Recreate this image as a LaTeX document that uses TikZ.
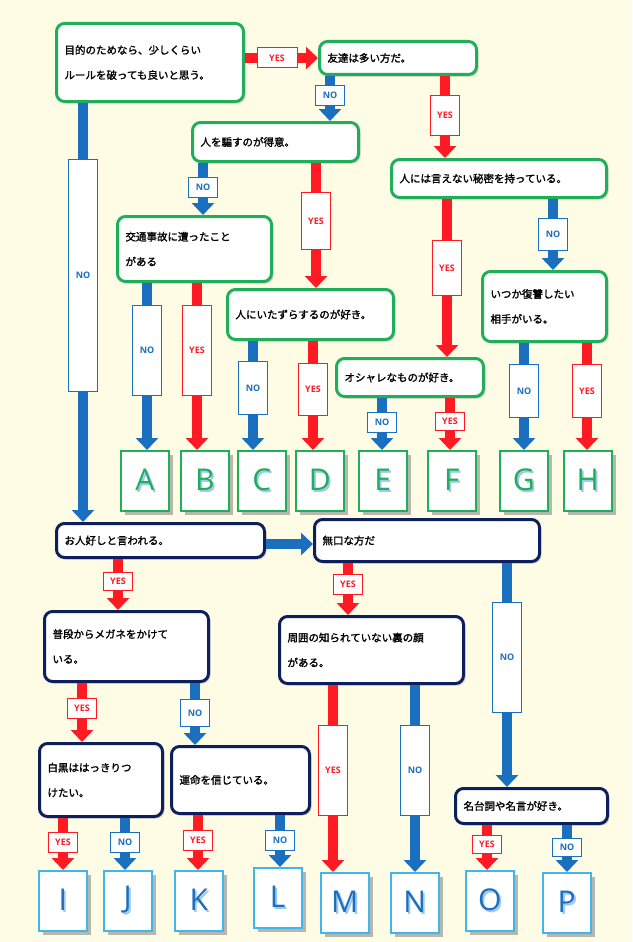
\documentclass[tikz,border=0pt]{standalone}
\usepackage{fontspec}
\newfontfamily\jp{Noto Sans CJK JP}[AutoFakeBold=1.6]
\newfontfamily\lat{Open Sans}[BoldFont={Open Sans Bold}]
\usetikzlibrary{arrows.meta,shadows}
\definecolor{bg}{HTML}{FEFCE4}
\definecolor{qg}{HTML}{1FAF5A}
\definecolor{nv}{HTML}{0D1F5C}
\definecolor{ry}{HTML}{FF1A24}
\definecolor{bn}{HTML}{1A6FBF}
\definecolor{lb}{HTML}{3FB6EE}
\definecolor{sh}{HTML}{9EC8F0}
\tikzset{x=1pt,y=-1pt,
 box/.style={line width=3pt,rounded corners=8pt,fill=white,anchor=north west,align=left,
   font=\jp\bfseries\fontsize{10.5}{25}\selectfont,inner sep=8pt,
   drop shadow={opacity=0.3,shadow xshift=2pt,shadow yshift=-2pt}},
 q/.style={box,draw=qg},
 n/.style={box,draw=nv},
 res/.style={fill=white,line width=1.5pt,minimum width=48pt,minimum height=60pt,anchor=north west,inner sep=0pt,
   font=\lat\fontsize{30}{30}\selectfont,drop shadow={opacity=0.55,shadow xshift=4pt,shadow yshift=-4pt,fill=gray}},
 rg/.style={res,draw=qg},
 rb/.style={res,draw=lb},
 yes/.style={draw=ry,line width=10pt,-{Triangle[width=22pt,length=12pt]}},
 no/.style={draw=bn,line width=10pt,-{Triangle[width=22pt,length=12pt]}},
 lab/.style={fill=white,line width=1pt,minimum width=29pt,minimum height=20pt,inner sep=1pt,font=\lat\bfseries\fontsize{9}{9}\selectfont},
 labyes/.style={lab,draw=ry,text=ry},
 labno/.style={lab,draw=bn,text=bn},
}
\newcommand\ltr[2]{\rlap{\textcolor{sh}{\hspace{1.8pt}\raisebox{-1.8pt}{#2}}}\textcolor{#1}{#2}}
% \arr{style}{from}{to}{x}{labelname}{label y}{label h}
\newcommand\arr[7]{\draw[#1] (#2.south -| #4,0) -- (#3.north -| #4,0);
 \node[lab#1,minimum height=#7pt] (#5) at (#4,#6) {\MakeUppercase{#1}};}
\begin{document}
\begin{tikzpicture}
\useasboundingbox[fill=bg] (0,0) rectangle (632,942);
% green questions
\node[q,minimum width=187pt,minimum height=78pt,text width=171pt] (q1) at (55,22) {目的のためなら、少しくらい\\ルールを破っても良いと思う。\\[-6pt]};
\node[q,minimum width=157pt,minimum height=33pt,text width=141pt] (q2) at (318,40) {友達は多い方だ。};
\node[q,minimum width=166pt,minimum height=39pt,text width=150pt] (q3) at (191,121) {人を騙すのが得意。};
\node[q,minimum width=215pt,minimum height=38pt,text width=199pt] (q4) at (390,158) {人には言えない秘密を持っている。};
\node[q,minimum width=154pt,minimum height=65pt,text width=138pt] (q5) at (116,215) {交通事故に遭ったこと\\がある};
\node[q,minimum width=166pt,minimum height=50pt,text width=150pt] (q6) at (226,288) {人にいたずらするのが好き。};
\node[q,minimum width=124pt,minimum height=70pt,text width=108pt] (q7) at (481,270) {いつか復讐したい\\相手がいる。};
\node[q,minimum width=147pt,minimum height=38pt,text width=131pt] (q8) at (335,357) {オシャレなものが好き。};
% green results
\node[rg] (A) at (120,450) {\ltr{qg}{A}};
\node[rg] (B) at (180,450) {\ltr{qg}{B}};
\node[rg] (C) at (237,450) {\ltr{qg}{C}};
\node[rg] (D) at (295,450) {\ltr{qg}{D}};
\node[rg] (E) at (358,450) {\ltr{qg}{E}};
\node[rg] (F) at (427,450) {\ltr{qg}{F}};
\node[rg] (G) at (499,450) {\ltr{qg}{G}};
\node[rg] (H) at (563,450) {\ltr{qg}{H}};
% navy questions
\node[n,minimum width=208pt,minimum height=34pt,text width=192pt] (r1) at (55,522) {お人好しと言われる。};
\node[n,minimum width=225pt,minimum height=42pt,text width=209pt] (r2) at (313,518) {無口な方だ\\[-6pt]};
\node[n,minimum width=164pt,minimum height=70pt,text width=148pt] (r3) at (43,610) {普段からメガネをかけて\\いる。};
\node[n,minimum width=184pt,minimum height=67pt,text width=168pt] (r4) at (278,615) {周囲の知られていない裏の顔\\がある。};
\node[n,minimum width=123pt,minimum height=73pt,text width=107pt] (r5) at (38,742) {白黒ははっきりつ\\けたい。};
\node[n,minimum width=138pt,minimum height=67pt,text width=122pt] (r6) at (170,745) {運命を信じている。\\[18pt]};
\node[n,minimum width=152pt,minimum height=35pt,text width=136pt] (r7) at (454,787) {名台詞や名言が好き。};
% blue results
\node[rb] (I) at (38,870) {\ltr{bn}{I}};
\node[rb] (J) at (103,870) {\ltr{bn}{J}};
\node[rb] (K) at (174,870) {\ltr{bn}{K}};
\node[rb] (L) at (253,867) {\ltr{bn}{L}};
\node[rb] (M) at (320,872) {\ltr{bn}{M}};
\node[rb] (N) at (390,872) {\ltr{bn}{N}};
\node[rb] (O) at (465,870) {\ltr{bn}{O}};
\node[rb] (P) at (542,872) {\ltr{bn}{P}};
% connectors
\draw[yes] (q1.east |- 0,58) -- (q2.west |- 0,58);
\node[labyes,minimum width=40pt] (l1) at (277,58) {YES};
\arr{no}{q2}{q3}{330}{l2}{95}{20}
\arr{yes}{q2}{q4}{445}{l3}{115}{40}
\arr{no}{q1}{r1}{83}{l4}{275}{232}
\arr{no}{q3}{q5}{203}{l5}{187}{20}
\arr{yes}{q3}{q6}{316}{l6}{221}{57}
\arr{yes}{q4}{q8}{447}{l7}{268}{55}
\arr{no}{q4}{q7}{553}{l8}{234}{32}
\arr{no}{q5}{A}{147}{l9}{350}{90}
\arr{yes}{q5}{B}{197}{l10}{350}{90}
\arr{no}{q6}{C}{253}{l11}{388}{53}
\arr{yes}{q6}{D}{313}{l12}{389}{52}
\arr{no}{q8}{E}{382}{l13}{422}{20}
\arr{yes}{q8}{F}{450}{l14}{421}{18}
\arr{no}{q7}{G}{524}{l15}{391}{53}
\arr{yes}{q7}{H}{587}{l16}{391}{53}
\draw[no] (r1.east |- 0,544) -- (r2.west |- 0,544);
\arr{yes}{r1}{r3}{118}{l17}{581}{18}
\arr{yes}{r2}{r4}{348}{l18}{584}{20}
\arr{no}{r2}{r7}{507}{l19}{657}{110}
\arr{yes}{r3}{r5}{82}{l20}{708}{20}
\arr{no}{r3}{r6}{195}{l21}{713}{27}
\arr{yes}{r4}{M}{333}{l22}{770}{90}
\arr{no}{r4}{N}{415}{l23}{770}{90}
\arr{yes}{r5}{I}{63}{l24}{842}{20}
\arr{no}{r5}{J}{125}{l25}{842}{20}
\arr{yes}{r6}{K}{198}{l26}{840}{20}
\arr{no}{r6}{L}{280}{l27}{840}{20}
\arr{yes}{r7}{O}{487}{l28}{844}{18}
\arr{no}{r7}{P}{567}{l29}{847}{18}
\end{tikzpicture}
\end{document}
